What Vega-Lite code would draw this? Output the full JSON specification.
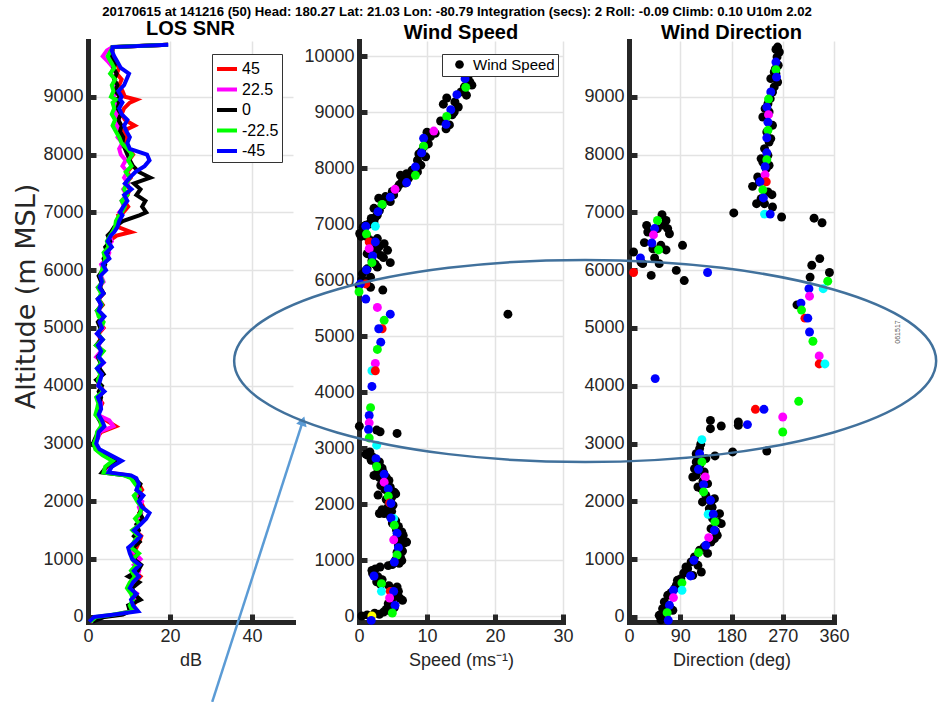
{
"$schema": "https://vega.github.io/schema/vega-lite/v6.json",
"padding": {"left": 12, "top": 4, "right": 0, "bottom": 0},
"background": "white",
"title": {"text": "20170615 at 141216 (50)  Head: 180.27  Lat: 21.03  Lon: -80.79  Integration (secs): 2  Roll: -0.09  Climb: 0.10  U10m 2.02", "font": "Liberation Sans", "fontSize": 13.2, "fontWeight": "bold", "color": "#000000", "anchor": "middle", "offset": 0, "dx": -20},
"config": {
  "view": {"stroke": null},
  "axis": {"format": "d", "domainColor": "#262626", "domainWidth": 5, "domainCap": "square", "tickColor": "#262626", "tickWidth": 5, "tickSize": -8, "labelFont": "Liberation Sans", "labelFontSize": 18, "labelColor": "#262626", "labelPadding": 13, "titleFont": "Liberation Sans", "titleFontSize": 18, "titleFontWeight": "normal", "titleColor": "#262626", "titlePadding": 6, "gridColor": "#e3e3e3", "gridWidth": 1.5, "labelFlush": false, "labelOverlap": false},
  "legend": {"labelFont": "Liberation Sans", "labelFontSize": 16, "labelColor": "#000000", "strokeColor": "#333333", "fillColor": "#ffffff", "padding": 3, "cornerRadius": 0}
},
"datasets": {
  "snr": [
    {"h":-80,"a":0.5,"b":0.8,"c":1.2,"d":0.6,"e":0.3},
    {"h":0,"a":3.0,"b":2.5,"c":4.0,"d":2.0,"e":1.5},
    {"h":40,"a":8,"b":7,"c":8.5,"d":6,"e":6},
    {"h":100,"a":10.5,"b":10,"c":10.2,"d":10.8,"e":12.2},
    {"h":200,"a":11,"b":10.5,"c":9.8,"d":10.2,"e":11.0},
    {"h":300,"a":12,"b":11.5,"c":12.8,"d":11,"e":10.5},
    {"h":400,"a":11,"b":12,"c":11.2,"d":10.5,"e":11.8},
    {"h":500,"a":10.5,"b":10,"c":10.8,"d":9.5,"e":10.2},
    {"h":600,"a":11.5,"b":11,"c":12.5,"d":10.2,"e":11},
    {"h":700,"a":12.8,"b":12,"c":9.8,"d":11.5,"e":12.4},
    {"h":800,"a":11,"b":12.5,"c":12.2,"d":10.5,"e":11.2},
    {"h":900,"a":12,"b":11.2,"c":13,"d":11.8,"e":12.6},
    {"h":1000,"a":11.5,"b":12.8,"c":11.2,"d":10.8,"e":10.8},
    {"h":1100,"a":10.8,"b":11.5,"c":12.2,"d":12.4,"e":10.2},
    {"h":1200,"a":11.8,"b":10.2,"c":11,"d":10.5,"e":9.8},
    {"h":1300,"a":12.5,"b":11.8,"c":12.6,"d":11.2,"e":11.5},
    {"h":1400,"a":13,"b":12.2,"c":11.2,"d":12.2,"e":12.8},
    {"h":1500,"a":11.5,"b":11,"c":12.4,"d":10.8,"e":11.2},
    {"h":1600,"a":12.2,"b":12.6,"c":11.8,"d":12.6,"e":12.8},
    {"h":1700,"a":13.2,"b":12,"c":13.4,"d":11.5,"e":14.2},
    {"h":1800,"a":12.5,"b":13,"c":12.6,"d":12.8,"e":15},
    {"h":1900,"a":13.5,"b":12.4,"c":13.2,"d":13,"e":13.2},
    {"h":2000,"a":12.8,"b":13.2,"c":12.2,"d":12,"e":12.4},
    {"h":2100,"a":12,"b":11.5,"c":13,"d":11.2,"e":13.5},
    {"h":2200,"a":13.2,"b":12.6,"c":12.2,"d":12.6,"e":11.8},
    {"h":2300,"a":12.4,"b":11.8,"c":12.8,"d":11.5,"e":12.4},
    {"h":2400,"a":11.5,"b":10.8,"c":11.2,"d":10.5,"e":11.8},
    {"h":2450,"a":10,"b":9.5,"c":9,"d":8.8,"e":10.5},
    {"h":2500,"a":4.5,"b":4.2,"c":3.4,"d":3.8,"e":5},
    {"h":2600,"a":5.2,"b":4.8,"c":4.5,"d":4.2,"e":5.8},
    {"h":2700,"a":7.2,"b":6.8,"c":6.5,"d":6,"e":8.2},
    {"h":2800,"a":4.5,"b":4.2,"c":3.8,"d":3.5,"e":5.5},
    {"h":2900,"a":2.5,"b":2.2,"c":2.0,"d":1.8,"e":2.8},
    {"h":3000,"a":1.8,"b":1.5,"c":1.2,"d":1.4,"e":2},
    {"h":3100,"a":2.2,"b":2.5,"c":1.8,"d":2.0,"e":2.4},
    {"h":3200,"a":3.2,"b":2.8,"c":2.5,"d":2.2,"e":2.6},
    {"h":3300,"a":6.8,"b":6.2,"c":3.5,"d":3.2,"e":4},
    {"h":3400,"a":4.5,"b":5.2,"c":2.8,"d":3.0,"e":3.4},
    {"h":3500,"a":2.4,"b":2.2,"c":2.0,"d":1.8,"e":2.6},
    {"h":3600,"a":2.8,"b":3.0,"c":2.6,"d":2.2,"e":3.2},
    {"h":3700,"a":3.5,"b":3.2,"c":2.8,"d":2.5,"e":3.0},
    {"h":3800,"a":2.5,"b":2.8,"c":3.2,"d":2.0,"e":2.4},
    {"h":3900,"a":3.8,"b":3.4,"c":2.6,"d":3.6,"e":4.0},
    {"h":4000,"a":3.0,"b":2.6,"c":3.4,"d":2.8,"e":2.5},
    {"h":4100,"a":2.2,"b":2.5,"c":2.0,"d":2.4,"e":3.0},
    {"h":4200,"a":3.2,"b":3.6,"c":3.8,"d":3.0,"e":3.4},
    {"h":4300,"a":2.6,"b":2.4,"c":2.8,"d":2.2,"e":2.2},
    {"h":4400,"a":3.4,"b":3.8,"c":3.0,"d":3.2,"e":3.8},
    {"h":4500,"a":2.4,"b":2.0,"c":2.4,"d":2.6,"e":2.6},
    {"h":4600,"a":3.6,"b":3.2,"c":3.6,"d":3.8,"e":3.2},
    {"h":4700,"a":2.2,"b":2.6,"c":2.0,"d":2.0,"e":2.4},
    {"h":4800,"a":3.0,"b":3.4,"c":3.2,"d":3.6,"e":3.6},
    {"h":4900,"a":2.6,"b":2.2,"c":2.6,"d":2.4,"e":2.2},
    {"h":5000,"a":3.8,"b":3.6,"c":3.0,"d":3.2,"e":3.4},
    {"h":5100,"a":2.8,"b":3.0,"c":2.4,"d":3.8,"e":2.8},
    {"h":5200,"a":3.4,"b":3.8,"c":3.6,"d":2.6,"e":4.0},
    {"h":5300,"a":2.4,"b":2.6,"c":2.2,"d":2.2,"e":2.6},
    {"h":5400,"a":3.6,"b":3.0,"c":3.4,"d":3.4,"e":3.2},
    {"h":5500,"a":2.6,"b":2.8,"c":2.4,"d":2.6,"e":2.4},
    {"h":5600,"a":3.8,"b":3.4,"c":3.8,"d":3.2,"e":3.8},
    {"h":5700,"a":2.8,"b":2.4,"c":3.0,"d":2.4,"e":2.8},
    {"h":5800,"a":3.6,"b":3.8,"c":3.2,"d":3.6,"e":3.4},
    {"h":5900,"a":2.8,"b":3.2,"c":2.6,"d":3.0,"e":3.0},
    {"h":6000,"a":4.2,"b":3.8,"c":3.6,"d":3.4,"e":4.4},
    {"h":6100,"a":3.4,"b":3.2,"c":4.2,"d":3.8,"e":3.6},
    {"h":6200,"a":5.0,"b":4.6,"c":3.8,"d":4.2,"e":5.2},
    {"h":6300,"a":4.2,"b":5.2,"c":4.8,"d":3.8,"e":4.4},
    {"h":6400,"a":5.6,"b":4.6,"c":4.2,"d":5.0,"e":5.8},
    {"h":6500,"a":5.0,"b":5.8,"c":5.4,"d":4.6,"e":4.8},
    {"h":6600,"a":7.0,"b":5.2,"c":4.8,"d":5.4,"e":5.6},
    {"h":6660,"a":10.5,"b":6.2,"c":5.6,"d":6.0,"e":6.4},
    {"h":6750,"a":7.2,"b":6.8,"c":6.4,"d":6.6,"e":7.2},
    {"h":6850,"a":8.0,"b":7.4,"c":8.5,"d":6.8,"e":7.6},
    {"h":6950,"a":7.4,"b":8.2,"c":12.5,"d":7.6,"e":8.4},
    {"h":7000,"a":8.6,"b":7.6,"c":14.2,"d":8.2,"e":7.8},
    {"h":7100,"a":9.8,"b":8.8,"c":13.2,"d":9.0,"e":8.6},
    {"h":7200,"a":8.8,"b":8.2,"c":14.0,"d":8.2,"e":9.6},
    {"h":7300,"a":9.6,"b":9.4,"c":11.8,"d":9.6,"e":8.8},
    {"h":7400,"a":10.2,"b":8.6,"c":12.8,"d":8.8,"e":10.6},
    {"h":7500,"a":9.2,"b":9.8,"c":11.2,"d":9.4,"e":9.0},
    {"h":7600,"a":10.4,"b":8.8,"c":15.2,"d":10.2,"e":10.2},
    {"h":7700,"a":9.6,"b":9.6,"c":12.4,"d":9.2,"e":11.6},
    {"h":7800,"a":10.8,"b":8.4,"c":11.0,"d":10.6,"e":13.8},
    {"h":7900,"a":10.0,"b":9.2,"c":10.2,"d":9.8,"e":15.0},
    {"h":8000,"a":11.0,"b":8.0,"c":9.6,"d":10.8,"e":14.4},
    {"h":8100,"a":9.8,"b":7.6,"c":9.0,"d":9.6,"e":10.2},
    {"h":8200,"a":8.8,"b":8.4,"c":8.4,"d":8.2,"e":9.6},
    {"h":8300,"a":9.6,"b":7.2,"c":8.6,"d":7.6,"e":10.2},
    {"h":8400,"a":8.4,"b":7.8,"c":7.8,"d":6.8,"e":9.4},
    {"h":8500,"a":11.4,"b":7.0,"c":8.2,"d":6.0,"e":8.8},
    {"h":8600,"a":9.0,"b":7.6,"c":7.4,"d":6.6,"e":9.6},
    {"h":8700,"a":8.2,"b":6.8,"c":8.0,"d":5.8,"e":8.2},
    {"h":8800,"a":8.8,"b":7.2,"c":7.2,"d":6.4,"e":7.6},
    {"h":8900,"a":10.2,"b":6.4,"c":7.6,"d":6.0,"e":8.4},
    {"h":8950,"a":11.8,"b":7.0,"c":7.0,"d":6.8,"e":7.8},
    {"h":9000,"a":9.0,"b":6.2,"c":7.8,"d":5.6,"e":8.2},
    {"h":9100,"a":8.4,"b":6.8,"c":6.6,"d":6.2,"e":7.4},
    {"h":9200,"a":7.6,"b":6.0,"c":7.2,"d":5.8,"e":8.8},
    {"h":9300,"a":8.2,"b":6.6,"c":6.4,"d":6.6,"e":9.4},
    {"h":9400,"a":7.0,"b":5.6,"c":7.0,"d":5.4,"e":10.0},
    {"h":9500,"a":7.6,"b":6.2,"c":6.2,"d":6.4,"e":8.0},
    {"h":9600,"a":6.6,"b":5.0,"c":6.8,"d":5.6,"e":7.2},
    {"h":9700,"a":6.2,"b":3.6,"c":5.4,"d":4.8,"e":6.4},
    {"h":9800,"a":5.8,"b":4.6,"c":6.0,"d":5.6,"e":5.8},
    {"h":9860,"a":6.0,"b":6.0,"c":6.0,"d":6.0,"e":6.0},
    {"h":9900,"a":19.5,"b":19.5,"c":19.5,"d":19.5,"e":19.6}
  ],
  "arr": [{"x": 30.3, "y": -1470, "x2": 52.4, "y2": 3390}],
  "ws": [
    {"s":16.3,"h":9536},{"s":15.8,"h":9300},{"s":14.1,"h":9180},{"s":14.6,"h":9090},{"s":13.7,"h":8950},{"s":12.4,"h":9140},{"s":12.9,"h":9250},{"s":13.3,"h":8770},{"s":12.0,"h":8840},{"s":10.0,"h":8640},{"s":9.8,"h":8520},{"s":9.5,"h":8380},{"s":9.8,"h":8200},{"s":8.6,"h":8140},{"s":9.1,"h":8050},{"s":8.6,"h":7930},{"s":6.1,"h":7870},{"s":7.3,"h":7820},{"s":6.8,"h":7730},{"s":5.6,"h":7640},{"s":5.1,"h":7520},{"s":3.9,"h":7490},{"s":4.6,"h":7400},{"s":2.9,"h":7460},{"s":3.4,"h":7340},{"s":2.2,"h":7280},{"s":2.7,"h":7160},{"s":1.8,"h":7100},{"s":2.2,"h":7040},{"s":1.0,"h":6980},{"s":0.1,"h":6830},{"s":0.7,"h":6890},{"s":1.2,"h":6770},{"s":2.7,"h":6740},{"s":3.7,"h":6650},{"s":2.7,"h":6560},{"s":4.2,"h":6530},{"s":3.2,"h":6440},{"s":1.2,"h":6470},{"s":4.6,"h":6310},{"s":1.9,"h":6350},{"s":2.7,"h":6230},{"s":0.5,"h":6110},{"s":1.7,"h":6050},{"s":0.0,"h":5900},{"s":1.7,"h":5870},{"s":3.5,"h":5820},{"s":21.9,"h":5390},
    {"s":16.0,"h":9620},{"s":15.5,"h":9450},{"s":16.6,"h":9480},{"s":15.0,"h":9360},{"s":14.0,"h":9000},{"s":12.8,"h":8700},{"s":11.2,"h":8620},{"s":10.5,"h":8560},{"s":10.2,"h":8430},{"s":9.2,"h":8300},{"s":8.8,"h":8250},{"s":8.4,"h":8000},{"s":7.8,"h":7960},{"s":7.0,"h":7900},{"s":6.4,"h":7780},{"s":5.9,"h":7700},{"s":4.9,"h":7580},{"s":4.3,"h":7440},{"s":3.0,"h":7240},{"s":2.4,"h":7120},{"s":1.5,"h":7000},{"s":0.6,"h":6940},{"s":0.3,"h":6780},{"s":1.8,"h":6700},{"s":2.2,"h":6610},{"s":3.0,"h":6600},{"s":2.0,"h":6500},{"s":3.6,"h":6400},{"s":2.4,"h":6280},{"s":1.2,"h":6200},{"s":0.9,"h":6160},{"s":1.1,"h":5980},{"s":0.4,"h":6000},
    {"s":0.05,"h":3390},{"s":2.6,"h":3320},{"s":3.1,"h":3290},{"s":5.6,"h":3260},{"s":1.0,"h":2890},{"s":1.3,"h":2870},{"s":2.0,"h":2840},{"s":3.0,"h":2750},{"s":2.2,"h":2510},{"s":4.4,"h":2420},{"s":3.2,"h":2330},{"s":5.2,"h":2210},{"s":2.8,"h":2160},{"s":5.4,"h":2180},{"s":5.0,"h":1980},{"s":3.0,"h":1830},{"s":3.7,"h":1830},{"s":4.3,"h":1950},{"s":6.5,"h":1440},{"s":7.0,"h":1320},{"s":6.3,"h":1500},{"s":6.0,"h":1200},{"s":6.3,"h":990},{"s":3.1,"h":875},{"s":1.9,"h":815},{"s":4.3,"h":900},{"s":2.6,"h":610},{"s":5.6,"h":520},{"s":6.4,"h":280},{"s":4.3,"h":220},{"s":3.6,"h":70},{"s":0.4,"h":0},{"s":2.3,"h":50},
    {"s":1.6,"h":2930},{"s":2.4,"h":2800},{"s":1.8,"h":2780},{"s":2.6,"h":2700},{"s":3.4,"h":2640},{"s":2.8,"h":2600},{"s":3.6,"h":2560},{"s":3.0,"h":2470},{"s":4.0,"h":2480},{"s":3.6,"h":2380},{"s":4.6,"h":2300},{"s":3.8,"h":2260},{"s":4.8,"h":2120},{"s":4.0,"h":2080},{"s":4.6,"h":2040},{"s":3.4,"h":1900},{"s":4.0,"h":1880},{"s":4.8,"h":1870},{"s":4.6,"h":1780},{"s":5.4,"h":1700},{"s":4.9,"h":1660},{"s":5.8,"h":1600},{"s":5.5,"h":1540},{"s":6.0,"h":1400},{"s":5.4,"h":1380},{"s":6.6,"h":1300},{"s":5.8,"h":1260},{"s":6.4,"h":1160},{"s":5.6,"h":1140},{"s":6.1,"h":1050},{"s":5.4,"h":1000},{"s":5.9,"h":940},{"s":4.9,"h":920},{"s":2.4,"h":840},{"s":2.0,"h":760},{"s":2.8,"h":700},{"s":3.4,"h":650},{"s":3.2,"h":560},{"s":4.4,"h":540},{"s":5.0,"h":480},{"s":5.8,"h":440},{"s":4.8,"h":400},{"s":5.5,"h":360},{"s":6.0,"h":320},{"s":4.8,"h":260},{"s":5.2,"h":150},{"s":4.0,"h":120},{"s":4.6,"h":90},{"s":3.0,"h":30},{"s":1.2,"h":20}
  ],
  "wsc": [
    {"s":15.6,"h":9595,"b":"B"},{"s":15.7,"h":9440,"b":"G"},{"s":14.4,"h":9310,"b":"B"},{"s":13.5,"h":9040,"b":"B"},{"s":12.9,"h":8920,"b":"G"},{"s":12.8,"h":8780,"b":"B"},{"s":11.0,"h":8660,"b":"M"},{"s":9.5,"h":8530,"b":"B"},{"s":9.5,"h":8390,"b":"G"},{"s":9.2,"h":8270,"b":"B"},{"s":8.3,"h":8020,"b":"B"},{"s":8.3,"h":7870,"b":"G"},{"s":7.0,"h":7740,"b":"B"},{"s":5.3,"h":7620,"b":"M"},{"s":4.6,"h":7480,"b":"B"},{"s":3.4,"h":7350,"b":"G"},{"s":2.8,"h":7220,"b":"B"},{"s":2.4,"h":6960,"b":"C"},{"s":1.0,"h":6960,"b":"B"},{"s":1.1,"h":6820,"b":"G"},{"s":1.5,"h":6680,"b":"R"},{"s":2.4,"h":6680,"b":"B"},{"s":1.5,"h":6560,"b":"M"},{"s":2.0,"h":6430,"b":"B"},{"s":1.9,"h":6310,"b":"G"},{"s":1.1,"h":6180,"b":"B"},{"s":1.0,"h":5930,"b":"R"},{"s":0.2,"h":5930,"b":"B"},{"s":0.0,"h":5790,"b":"G"},{"s":1.0,"h":5660,"b":"B"},{"s":2.7,"h":5510,"b":"M"},{"s":4.6,"h":5390,"b":"B"},{"s":3.7,"h":5280,"b":"G"},{"s":3.4,"h":5130,"b":"R"},{"s":2.9,"h":5130,"b":"B"},
    {"s":3.2,"h":4890,"b":"B"},{"s":2.7,"h":4760,"b":"G"},{"s":2.4,"h":4510,"b":"M"},{"s":1.9,"h":4380,"b":"C"},{"s":2.4,"h":4380,"b":"R"},{"s":1.9,"h":4100,"b":"B"},{"s":1.7,"h":3720,"b":"G"},{"s":1.5,"h":3580,"b":"B"},{"s":1.5,"h":3450,"b":"M"},{"s":1.4,"h":3330,"b":"B"},{"s":1.5,"h":3180,"b":"G"},{"s":2.6,"h":3050,"b":"C"},{"s":2.5,"h":2810,"b":"B"},{"s":2.6,"h":2670,"b":"G"},{"s":3.7,"h":2530,"b":"B"},{"s":3.7,"h":2390,"b":"M"},{"s":4.3,"h":2270,"b":"B"},{"s":4.3,"h":2140,"b":"G"},{"s":4.5,"h":2020,"b":"R"},{"s":4.7,"h":2010,"b":"B"},{"s":5.1,"h":1740,"b":"C"},{"s":4.7,"h":1750,"b":"B"},{"s":5.2,"h":1620,"b":"G"},{"s":5.6,"h":1480,"b":"B"},{"s":5.1,"h":1360,"b":"M"},{"s":5.8,"h":1220,"b":"B"},{"s":5.6,"h":1090,"b":"G"},{"s":5.2,"h":964,"b":"B"},{"s":2.2,"h":714,"b":"B"},{"s":3.3,"h":577,"b":"G"},{"s":3.3,"h":440,"b":"C"},{"s":4.6,"h":440,"b":"R"},{"s":5.1,"h":440,"b":"B"},{"s":4.5,"h":321,"b":"M"},{"s":5.3,"h":190,"b":"B"},{"s":4.9,"h":54,"b":"G"},{"s":1.9,"h":0,"b":"Y"},{"s":1.8,"h":-78,"b":"B"}
  ],
  "wd": [
    {"d":261,"h":9860},{"d":264,"h":9775},{"d":260,"h":9690},{"d":262,"h":9545},{"d":258,"h":9400},{"d":261,"h":9256},{"d":255,"h":9170},{"d":252,"h":9083},{"d":248,"h":8968},{"d":244,"h":8880},{"d":246,"h":8737},{"d":235,"h":8650},{"d":252,"h":8506},{"d":242,"h":8390},{"d":246,"h":8218},{"d":238,"h":8103},{"d":244,"h":7987},{"d":235,"h":7872},{"d":241,"h":7757},{"d":226,"h":7612},{"d":235,"h":7583},{"d":217,"h":7450},{"d":251,"h":7306},{"d":224,"h":7150},{"d":252,"h":7093},{"d":238,"h":7150},{"d":184,"h":6990},{"d":268,"h":6920},{"d":325,"h":6900},{"d":339,"h":6820},{"d":249,"h":9314},{"d":255,"h":9430},{"d":239,"h":8795},{"d":249,"h":8276},{"d":232,"h":7930},{"d":246,"h":7814},{"d":229,"h":7526},{"d":244,"h":7353},{"d":232,"h":7238},{"d":258,"h":9820},{"d":257,"h":9480},
    {"d":58,"h":6960},{"d":65,"h":6860},{"d":31,"h":6775},{"d":68,"h":6718},{"d":27,"h":6477},{"d":71,"h":6630},{"d":94,"h":6430},{"d":65,"h":6350},{"d":8,"h":6315},{"d":45,"h":6210},{"d":24,"h":6113},{"d":53,"h":6113},{"d":83,"h":5997},{"d":39,"h":5910},{"d":97,"h":5820},{"d":33,"h":6660},{"d":50,"h":6720},{"d":56,"h":6430},{"d":42,"h":6370},{"d":62,"h":6775},{"d":21,"h":6140},
    {"d":335,"h":6200},{"d":321,"h":6085},{"d":352,"h":5960},{"d":318,"h":5880},{"d":295,"h":5400},
    {"d":143,"h":3400},{"d":143,"h":3258},{"d":162,"h":3304},{"d":192,"h":3374},{"d":192,"h":3316},{"d":124,"h":2913},{"d":151,"h":2786},{"d":182,"h":2855},{"d":242,"h":2872},
    {"d":118,"h":2682},{"d":115,"h":2566},{"d":118,"h":2451},{"d":132,"h":2509},{"d":138,"h":2307},{"d":127,"h":2220},{"d":135,"h":2105},{"d":144,"h":1990},{"d":150,"h":2047},{"d":141,"h":1874},{"d":159,"h":1788},{"d":147,"h":1701},{"d":156,"h":1644},{"d":144,"h":1528},{"d":155,"h":1413},{"d":144,"h":1297},{"d":132,"h":1211},{"d":124,"h":1154},{"d":115,"h":1038},{"d":127,"h":778},{"d":103,"h":836},{"d":112,"h":720},{"d":100,"h":865},{"d":85,"h":634},{"d":83,"h":548},{"d":91,"h":663},{"d":68,"h":375},{"d":80,"h":490},{"d":62,"h":260},{"d":77,"h":115},{"d":59,"h":144},{"d":53,"h":29},{"d":65,"h":0},{"d":56,"h":-50},{"d":109,"h":952},{"d":121,"h":894},{"d":129,"h":1990},{"d":121,"h":2249},{"d":112,"h":2422},{"d":124,"h":2624},{"d":135,"h":2740},{"d":118,"h":2826},{"d":144,"h":1759},{"d":162,"h":1615},{"d":150,"h":1355},{"d":126,"h":2990},{"d":120,"h":2780},{"d":130,"h":2350},{"d":146,"h":1900},{"d":152,"h":1480},{"d":138,"h":1100},{"d":96,"h":760},{"d":74,"h":420},{"d":70,"h":200}
  ],
  "wdc": [
    {"d":258,"h":9600,"b":"B"},{"d":258,"h":9470,"b":"G"},{"d":259,"h":9340,"b":"B"},{"d":249,"h":9083,"b":"B"},{"d":245,"h":8960,"b":"G"},{"d":242,"h":8820,"b":"B"},{"d":245,"h":8690,"b":"M"},{"d":244,"h":8560,"b":"B"},{"d":244,"h":8420,"b":"G"},{"d":242,"h":8290,"b":"B"},{"d":242,"h":8030,"b":"B"},{"d":242,"h":7910,"b":"G"},{"d":239,"h":7790,"b":"B"},{"d":239,"h":7650,"b":"M"},{"d":241,"h":7530,"b":"R"},{"d":230,"h":7530,"b":"B"},{"d":235,"h":7390,"b":"G"},{"d":236,"h":7250,"b":"B"},{"d":238,"h":6970,"b":"C"},{"d":248,"h":6970,"b":"B"},
    {"d":50,"h":6860,"b":"G"},{"d":45,"h":6720,"b":"B"},{"d":43,"h":6610,"b":"M"},{"d":40,"h":6470,"b":"B"},{"d":52,"h":6350,"b":"G"},{"d":20,"h":6210,"b":"B"},{"d":8,"h":5960,"b":"R"},{"d":138,"h":5960,"b":"B"},
    {"d":349,"h":5810,"b":"G"},{"d":316,"h":5680,"b":"B"},{"d":341,"h":5680,"b":"C"},{"d":317,"h":5550,"b":"M"},{"d":302,"h":5430,"b":"B"},{"d":303,"h":5310,"b":"G"},{"d":309,"h":5170,"b":"R"},{"d":314,"h":5170,"b":"B"},{"d":317,"h":4930,"b":"B"},{"d":323,"h":4770,"b":"G"},{"d":334,"h":4516,"b":"M"},{"d":334,"h":4378,"b":"R"},{"d":344,"h":4378,"b":"C"},{"d":46,"h":4124,"b":"B"},{"d":298,"h":3731,"b":"G"},{"d":222,"h":3593,"b":"R"},{"d":237,"h":3593,"b":"B"},{"d":270,"h":3460,"b":"M"},{"d":208,"h":3328,"b":"B"},{"d":270,"h":3200,"b":"G"},
    {"d":128,"h":3068,"b":"C"},{"d":124,"h":2826,"b":"B"},{"d":128,"h":2682,"b":"G"},{"d":122,"h":2555,"b":"B"},{"d":134,"h":2422,"b":"M"},{"d":131,"h":2290,"b":"B"},{"d":131,"h":2163,"b":"G"},{"d":143,"h":2019,"b":"B"},{"d":139,"h":1777,"b":"C"},{"d":148,"h":1777,"b":"B"},{"d":151,"h":1644,"b":"G"},{"d":150,"h":1500,"b":"B"},{"d":140,"h":1373,"b":"M"},{"d":135,"h":1240,"b":"B"},{"d":122,"h":1113,"b":"G"},{"d":114,"h":980,"b":"B"},{"d":108,"h":710,"b":"B"},{"d":93,"h":590,"b":"G"},{"d":93,"h":462,"b":"C"},{"d":78,"h":462,"b":"B"},{"d":78,"h":335,"b":"M"},{"d":71,"h":202,"b":"B"},{"d":67,"h":75,"b":"G"},{"d":69,"h":-58,"b":"B"}
  ],
  "ell": [{"d": -77, "h": 4429}],
  "lab": [{"d": 472, "h": 4930, "t": "061517"}]
},
"spacing": 66,
"bounds": "flush",
"resolve": {"scale": {"color": "independent", "fill": "independent"}, "legend": {"color": "independent", "fill": "independent"}},
"hconcat": [
  {
    "width": 205, "height": 581,
    "title": {"text": "LOS SNR", "font": "Liberation Sans", "fontSize": 20, "fontWeight": "bold", "color": "#000000", "offset": -2},
    "layer": [
      {
        "data": {"name": "snr"},
        "transform": [{"fold": ["a", "b", "c", "d", "e"], "as": ["k", "v"]}],
        "mark": {"type": "line", "strokeWidth": 4},
        "encoding": {
          "x": {"field": "v", "type": "quantitative", "scale": {"domain": [0, 50], "nice": false, "zero": false}, "axis": {"values": [0, 20, 40]}, "title": "dB"},
          "y": {"field": "h", "type": "quantitative", "scale": {"domain": [-87, 9965], "nice": false, "zero": false}, "axis": {"values": [0,1000,2000,3000,4000,5000,6000,7000,8000,9000], "titleFont": "DejaVu Sans", "titleFontSize": 27, "titlePadding": 2, "titleY": 255}, "title": "Altitude (m MSL)"},
          "color": {"field": "k", "type": "nominal", "scale": {"domain": ["a","b","c","d","e"], "range": ["#ff0000","#ff00ff","#000000","#00ff00","#0000ff"]}, "legend": {"title": null, "orient": "none", "legendX": 124, "legendY": 13, "symbolType": "stroke", "symbolSize": 400, "symbolStrokeWidth": 4, "rowPadding": 0.5, "labelOffset": 3, "labelExpr": "datum.label == 'a' ? '45' : datum.label == 'b' ? '22.5' : datum.label == 'c' ? '0' : datum.label == 'd' ? '-22.5' : '-45'"}},
          "order": {"field": "h", "type": "quantitative"}
        }
      },
      {
        "data": {"name": "arr"},
        "mark": {"type": "rule", "color": "#5b9bd5", "strokeWidth": 2.5, "clip": false},
        "encoding": {
          "x": {"field": "x", "type": "quantitative", "title": "dB"},
          "y": {"field": "y", "type": "quantitative", "title": "Altitude (m MSL)"},
          "x2": {"field": "x2"},
          "y2": {"field": "y2"}
        }
      },
      {
        "data": {"name": "arr"},
        "mark": {"type": "point", "shape": "triangle-up", "filled": true, "size": 120, "angle": 18, "color": "#5b9bd5", "opacity": 1, "clip": false},
        "encoding": {
          "x": {"field": "x2", "type": "quantitative", "title": "dB"},
          "y": {"field": "y2", "type": "quantitative", "title": "Altitude (m MSL)"}
        }
      }
    ]
  },
  {
    "width": 204, "height": 581,
    "title": {"text": "Wind Speed", "font": "Liberation Sans", "fontSize": 20, "fontWeight": "bold", "color": "#000000", "offset": -2},
    "layer": [
      {
        "data": {"name": "ws"},
        "mark": {"type": "circle", "size": 80, "opacity": 1},
        "encoding": {
          "x": {"field": "s", "type": "quantitative", "scale": {"domain": [0, 30], "nice": false, "zero": false}, "axis": {"values": [0, 10, 20, 30]}, "title": "Speed (ms⁻¹)"},
          "y": {"field": "h", "type": "quantitative", "scale": {"domain": [-107, 10268], "nice": false, "zero": false}, "axis": {"values": [0,1000,2000,3000,4000,5000,6000,7000,8000,9000,10000]}, "title": null},
          "fill": {"datum": "Wind Speed", "type": "nominal", "scale": {"range": ["#000000"]}, "legend": {"title": null, "orient": "none", "legendX": 83, "legendY": 13, "symbolType": "circle", "symbolSize": 75, "symbolOffset": 7, "labelOffset": 6, "labelFontSize": 15}}
        }
      },
      {
        "data": {"name": "wsc"},
        "mark": {"type": "circle", "size": 80, "opacity": 1},
        "encoding": {
          "x": {"field": "s", "type": "quantitative", "title": "Speed (ms⁻¹)"},
          "y": {"field": "h", "type": "quantitative", "title": null},
          "color": {"field": "b", "type": "nominal", "scale": {"domain": ["B","G","M","R","C","Y"], "range": ["#0000ff","#00ff00","#ff00ff","#ff0000","#00ffff","#ffff00"]}, "legend": null}
        }
      }
    ]
  },
  {
    "width": 205, "height": 581,
    "title": {"text": "Wind Direction", "font": "Liberation Sans", "fontSize": 20, "fontWeight": "bold", "color": "#000000", "offset": -2},
    "layer": [
      {
        "data": {"name": "wd"},
        "mark": {"type": "circle", "size": 80, "opacity": 1, "color": "#000000"},
        "encoding": {
          "x": {"field": "d", "type": "quantitative", "scale": {"domain": [0, 360], "nice": false, "zero": false}, "axis": {"values": [0, 90, 180, 270, 360]}, "title": "Direction (deg)"},
          "y": {"field": "h", "type": "quantitative", "scale": {"domain": [-87, 9965], "nice": false, "zero": false}, "axis": {"values": [0,1000,2000,3000,4000,5000,6000,7000,8000,9000]}, "title": null}
        }
      },
      {
        "data": {"name": "wdc"},
        "mark": {"type": "circle", "size": 80, "opacity": 1},
        "encoding": {
          "x": {"field": "d", "type": "quantitative", "title": "Direction (deg)"},
          "y": {"field": "h", "type": "quantitative", "title": null},
          "color": {"field": "b", "type": "nominal", "scale": {"domain": ["B","G","M","R","C","Y"], "range": ["#0000ff","#00ff00","#ff00ff","#ff0000","#00ffff","#ffff00"]}, "legend": null}
        }
      },
      {
        "data": {"name": "ell"},
        "mark": {"type": "point", "shape": "M -1 0 C -1 -0.159 -0.5523 -0.288 0 -0.288 C 0.5523 -0.288 1 -0.159 1 0 C 1 0.159 0.5523 0.288 0 0.288 C -0.5523 0.288 -1 0.159 -1 0 Z", "filled": false, "size": 492804, "color": "#41719c", "strokeWidth": 2.5, "opacity": 1, "clip": false},
        "encoding": {
          "x": {"field": "d", "type": "quantitative", "title": "Direction (deg)"},
          "y": {"field": "h", "type": "quantitative", "title": null}
        }
      },
      {
        "data": {"name": "lab"},
        "mark": {"type": "text", "angle": 270, "fontSize": 7, "color": "#555555", "font": "Liberation Sans", "clip": false},
        "encoding": {
          "x": {"field": "d", "type": "quantitative", "title": "Direction (deg)"},
          "y": {"field": "h", "type": "quantitative", "title": null},
          "text": {"field": "t"}
        }
      }
    ]
  }
]
}
